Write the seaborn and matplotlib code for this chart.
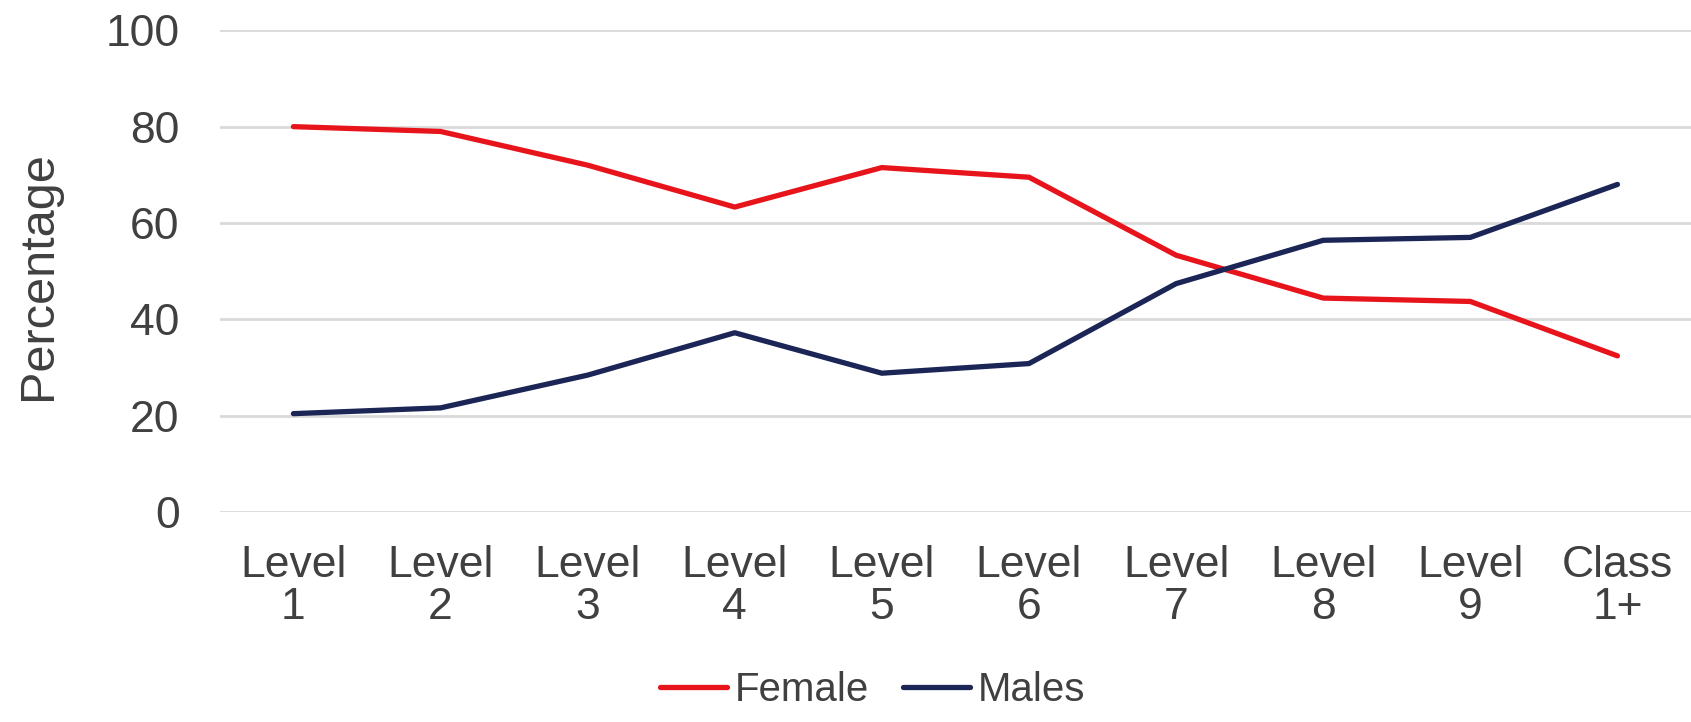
import pandas as pd
import matplotlib.pyplot as plt
import seaborn as sns
from matplotlib.lines import Line2D

levels = ["Level\n1", "Level\n2", "Level\n3", "Level\n4", "Level\n5",
          "Level\n6", "Level\n7", "Level\n8", "Level\n9", "Class\n1+"]
female = [80.0, 79.0, 72.0, 63.3, 71.5, 69.5, 53.3, 44.4, 43.7, 32.4]
males = [20.4, 21.6, 28.4, 37.2, 28.8, 30.8, 47.4, 56.4, 57.0, 68.0]

df = pd.DataFrame({
    "x": list(range(len(levels))) * 2,
    "Percentage": female + males,
    "Sex": ["Female"] * len(levels) + ["Males"] * len(levels),
})

red = "#e8141c"
navy = "#1b2556"
grey = "#404040"

sns.set_style("white")
plt.rcParams["font.family"] = ["Liberation Sans", "DejaVu Sans"]

fig = plt.figure(figsize=(16.91, 7.22), dpi=100)
ax = fig.add_axes([0.130, 0.291, 0.870, 0.667])

sns.lineplot(data=df, x="x", y="Percentage", hue="Sex",
             palette={"Female": red, "Males": navy},
             linewidth=3.8, ax=ax, legend=False)

ax.set_ylim(0, 100)
ax.set_xlim(-0.5, 9.5)
ax.set_yticks([0, 20, 40, 60, 80, 100])
ax.set_xticks(range(len(levels)))
ax.set_xticklabels(levels, fontsize=32, color=grey, linespacing=1.02)
ax.tick_params(axis="y", labelsize=32, labelcolor=grey, pad=29, length=0)
ax.tick_params(axis="x", pad=24, length=0)
ax.yaxis.grid(True, color="#d9d9d9", linewidth=2)
ax.set_axisbelow(True)
for s in ax.spines.values():
    s.set_visible(False)
ax.set_xlabel("")
ax.set_ylabel("Percentage", fontsize=35, color=grey)
ax.yaxis.set_label_coords(-0.108, 0.49)

handles = [Line2D([], [], color=red, linewidth=3.8),
           Line2D([], [], color=navy, linewidth=3.8)]
fig.legend(handles, ["Female", "Males"], loc="center",
           bbox_to_anchor=(0.516, 0.044), ncol=2, frameon=False,
           fontsize=29, labelcolor=grey, handlelength=1.65,
           handletextpad=0.2, columnspacing=0.85)

fig.savefig("out.png", dpi=100)
